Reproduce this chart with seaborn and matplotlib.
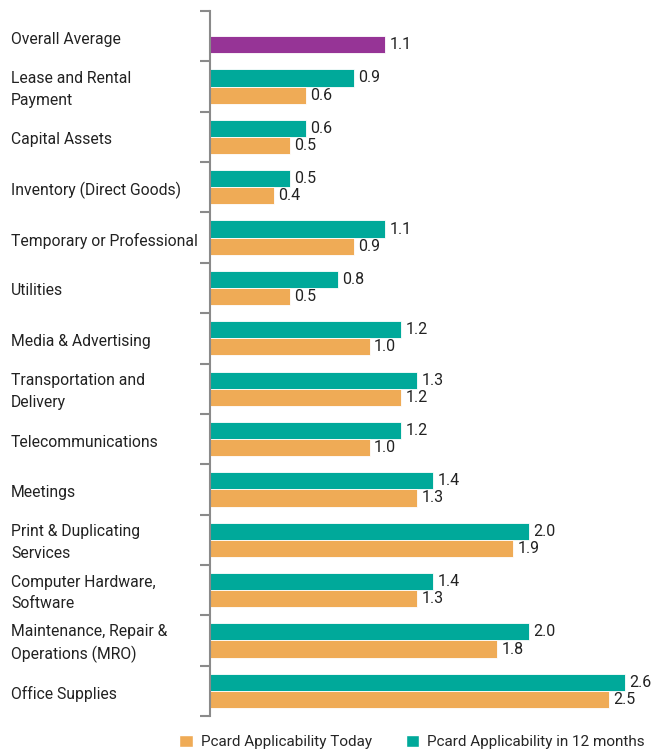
import numpy as np
import pandas as pd
import seaborn as sns
import matplotlib.pyplot as plt
from matplotlib.patches import Patch
from matplotlib.transforms import blended_transform_factory

categories = [
    "Overall Average",
    "Lease and Rental\nPayment",
    "Capital Assets",
    "Inventory (Direct Goods)",
    "Temporary or Professional",
    "Utilities",
    "Media & Advertising",
    "Transportation and\nDelivery",
    "Telecommunications",
    "Meetings",
    "Print & Duplicating\nServices",
    "Computer Hardware,\nSoftware",
    "Maintenance, Repair &\nOperations (MRO)",
    "Office Supplies",
]
in_12_months = [np.nan, 0.9, 0.6, 0.5, 1.1, 0.8, 1.2, 1.3, 1.2, 1.4, 2.0, 1.4, 2.0, 2.6]
today = [1.1, 0.6, 0.5, 0.4, 0.9, 0.5, 1.0, 1.2, 1.0, 1.3, 1.9, 1.3, 1.8, 2.5]
series_names = ["Pcard Applicability in 12 months", "Pcard Applicability Today"]

teal = "#00A99A"
orange = "#EFAB56"
purple = "#963496"

sns.set_style("white")
plt.rcParams["font.family"] = ["Roboto", "DejaVu Sans"]

df = pd.DataFrame({
    "category": categories * 2,
    "series": [series_names[0]] * len(categories) + [series_names[1]] * len(categories),
    "value": in_12_months + today,
})

fig = plt.figure(figsize=(6.53, 7.53), dpi=100)
ax = fig.add_axes([210 / 653, 1 - 716 / 753, (640 - 210) / 653, (716 - 11) / 753])

sns.barplot(data=df, y="category", x="value", hue="series", hue_order=series_names,
            palette=[teal, orange], saturation=1, order=categories, width=0.68, orient="h",
            edgecolor="white", linewidth=0.6, ax=ax, legend=False)

# Overall average shown as a single purple bar
for p in ax.patches:
    yc = p.get_y() + p.get_height() / 2
    if abs(yc) < 0.5 and abs(p.get_width() - today[0]) < 1e-6:
        p.set_facecolor(purple)

for cont in ax.containers:
    ax.bar_label(cont, fmt="%.1f", padding=3, fontsize=11.5, color="#222222")

ax.set_xlim(0, (640 - 210) / 159.5)
ax.set_ylim(len(categories) - 0.5, -0.5)
ax.set_xlabel("")
ax.set_ylabel("")
ax.set_xticks([])

# boundary ticks between categories
ax.set_yticks(np.arange(-0.5, len(categories), 1.0))
ax.set_yticklabels([])
ax.tick_params(axis="y", left=True, length=7, width=1.5, color="#8a8a8a", direction="out")
for s in ["top", "right", "bottom"]:
    ax.spines[s].set_visible(False)
ax.spines["left"].set_color("#8a8a8a")
ax.spines["left"].set_linewidth(1.5)

# category names, left aligned at the figure edge
label_tf = blended_transform_factory(fig.transFigure, ax.transData)
for i, c in enumerate(categories):
    ax.text(11 / 653, i + 0.06, c, transform=label_tf,
            ha="left", va="center", fontsize=11.3, color="#222222", linespacing=1.55)

handles = [Patch(facecolor=orange, label="Pcard Applicability Today"),
           Patch(facecolor=teal, label="Pcard Applicability in 12 months")]
fig.legend(handles=handles, loc="center", bbox_to_anchor=(412 / 653, 1 - 742 / 753), ncol=2,
           frameon=False, fontsize=11, handlelength=0.9, handleheight=0.9,
           handletextpad=0.5, columnspacing=2.2, borderpad=0, borderaxespad=0)

fig.savefig("out.png", dpi=100)
